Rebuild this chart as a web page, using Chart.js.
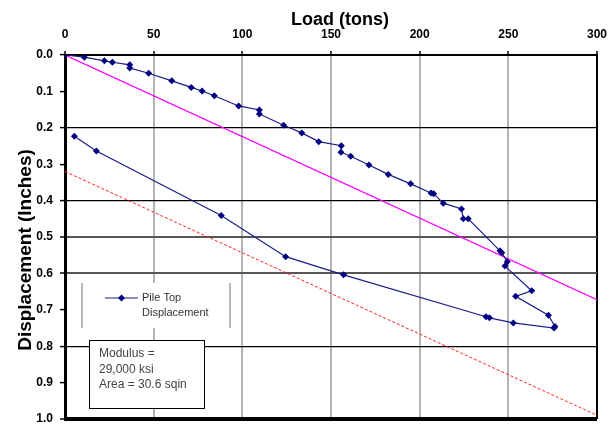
<!DOCTYPE html>
<html>
<head>
<meta charset="utf-8">
<script src="https://cdn.jsdelivr.net/npm/chart.js@4/dist/chart.umd.min.js"></script>
<style>
  html, body { margin: 0; padding: 0; background: #ffffff; }
  #wrap { width: 612px; height: 424px; }
</style>
</head>
<body>
<div id="wrap"><canvas id="myChart" width="612" height="424"></canvas></div>
<script>
'use strict';

// Pile top load test readings (load in tons, displacement in inches)
var pileLoad = [0, 10.9, 22.2, 26.7, 36.5, 36.5, 47.2, 60.2, 71.2, 77.3, 84.2, 97.9, 109.6, 109.6,
    123.3, 133.5, 143.1, 155.8, 155.6, 161.1, 171.4, 182.3, 194.9, 206.4, 207.9, 213.3, 223.6,
    224.6, 227.4, 245.3, 246.3, 249.4, 248.1, 263.2, 254.1, 272.6, 276.3, 275.8, 252.8, 239.3,
    237.4, 157.1, 124.4, 88.1, 17.7, 5.3];
var pileDisp = [0, 0.006, 0.016, 0.020, 0.027, 0.036, 0.050, 0.071, 0.089, 0.099, 0.112, 0.140, 0.151, 0.162,
    0.193, 0.214, 0.238, 0.249, 0.267, 0.278, 0.302, 0.328, 0.354, 0.379, 0.381, 0.407, 0.423,
    0.450, 0.450, 0.538, 0.543, 0.568, 0.580, 0.648, 0.663, 0.715, 0.746, 0.750, 0.736, 0.722,
    0.719, 0.604, 0.554, 0.441, 0.264, 0.223];

// Elastic compression line (PL/AE)
var elasticLoad = [0, 300];
var elasticDisp = [0, 0.672];

// Offset (failure criterion) line
var offsetLoad = [0, 300];
var offsetDisp = [0.32, 0.99];

var legendText = ['Pile Top', 'Displacement'];
var noteText = ['Modulus =', '29,000 ksi', 'Area = 30.6 sqin'];

function toPoints(xs, ys) {
    var pts = [];
    for (var i = 0; i < xs.length; i++) {
        pts.push({ x: xs[i], y: ys[i] });
    }
    return pts;
}

function round1(v) {
    return Math.round(v * 10) / 10;
}

// Titles, legend and the text box are drawn on top of the plot
var overlayPlugin = {
    id: 'overlay',
    afterDraw: function (chart) {
        var ctx = chart.ctx;
        ctx.save();

        // axis titles
        ctx.fillStyle = '#000000';
        ctx.textAlign = 'center';
        ctx.textBaseline = 'middle';
        ctx.font = 'bold 18px "Liberation Sans", Arial, sans-serif';
        ctx.fillText('Load (tons)', 340, 20);

        ctx.translate(26, 250);
        ctx.rotate(-Math.PI / 2);
        ctx.font = 'bold 19px "Liberation Sans", Arial, sans-serif';
        ctx.fillText('Displacement (Inches)', 0, 0);
        ctx.setTransform(1, 0, 0, 1, 0, 0);

        // legend box
        ctx.fillStyle = '#ffffff';
        ctx.fillRect(82, 283, 148, 45);
        ctx.strokeStyle = '#a0a0a0';
        ctx.lineWidth = 1.5;
        ctx.beginPath();
        ctx.moveTo(82, 283); ctx.lineTo(82, 328);
        ctx.moveTo(230, 283); ctx.lineTo(230, 328);
        ctx.stroke();

        ctx.strokeStyle = '#1c1c88';
        ctx.lineWidth = 1.2;
        ctx.beginPath();
        ctx.moveTo(105, 298); ctx.lineTo(138, 298);
        ctx.stroke();
        ctx.fillStyle = '#000080';
        ctx.beginPath();
        ctx.moveTo(121.5, 294.5); ctx.lineTo(125, 298); ctx.lineTo(121.5, 301.5); ctx.lineTo(118, 298);
        ctx.closePath();
        ctx.fill();

        ctx.fillStyle = '#333333';
        ctx.textAlign = 'left';
        ctx.font = '11px "Liberation Sans", Arial, sans-serif';
        ctx.fillText(legendText[0], 142, 298);
        ctx.fillText(legendText[1], 142, 312.5);

        // modulus note box
        ctx.fillStyle = '#ffffff';
        ctx.fillRect(89.5, 340.5, 115, 68);
        ctx.strokeStyle = '#000000';
        ctx.lineWidth = 1;
        ctx.strokeRect(89.5, 340.5, 115, 68);
        ctx.fillStyle = '#444444';
        ctx.font = '12px "Liberation Sans", Arial, sans-serif';
        ctx.fillText(noteText[0], 99, 354);
        ctx.fillText(noteText[1], 99, 370);
        ctx.fillText(noteText[2], 99, 384.5);

        ctx.restore();
    }
};

var tickFont = { family: '"Liberation Sans", Arial, sans-serif', size: 12, weight: 'bold' };

var chart = new Chart(document.getElementById('myChart'), {
    type: 'scatter',
    data: {
        datasets: [
            {
                label: 'Pile Top Displacement',
                data: toPoints(pileLoad, pileDisp),
                showLine: true,
                borderColor: '#1c1c88',
                borderWidth: 1.2,
                pointStyle: 'rectRot',
                pointRadius: 3.5,
                pointBackgroundColor: '#000080',
                pointBorderColor: '#000080',
                pointBorderWidth: 0,
                order: 1
            },
            {
                label: 'Elastic',
                data: toPoints(elasticLoad, elasticDisp),
                showLine: true,
                borderColor: '#ff00ff',
                borderWidth: 1.2,
                pointRadius: 0,
                order: 2
            },
            {
                label: 'Offset',
                data: toPoints(offsetLoad, offsetDisp),
                showLine: true,
                borderColor: '#ff2020',
                borderWidth: 1,
                borderDash: [3, 2],
                pointRadius: 0,
                order: 3
            }
        ]
    },
    options: {
        responsive: false,
        animation: false,
        layout: {
            padding: { left: 0, right: 15, top: 0, bottom: 5 }
        },
        plugins: {
            legend: { display: false },
            tooltip: { enabled: false }
        },
        scales: {
            x: {
                type: 'linear',
                position: 'top',
                min: 0,
                max: 300,
                afterFit: function (scale) {
                    scale.height = 55;
                    scale.paddingLeft = 0;
                    scale.paddingRight = 0;
                },
                ticks: {
                    stepSize: 50,
                    padding: 9,
                    color: '#000000',
                    maxRotation: 0,
                    font: tickFont
                },
                border: { color: '#000000', width: 2 },
                grid: {
                    tickLength: 4,
                    tickColor: '#000000',
                    tickWidth: 1.5,
                    color: function (ctx) {
                        var v = ctx.tick ? ctx.tick.value : 0;
                        if (v === 0) return 'rgba(0,0,0,0)';
                        if (v === 300) return '#000000';
                        return '#b4b4b4';
                    },
                    lineWidth: 2
                }
            },
            y: {
                type: 'linear',
                reverse: true,
                min: 0,
                max: 1,
                afterFit: function (scale) {
                    scale.width = 65;
                    scale.paddingTop = 0;
                    scale.paddingBottom = 0;
                },
                ticks: {
                    stepSize: 0.1,
                    padding: 7,
                    color: '#000000',
                    font: tickFont,
                    callback: function (value) {
                        return round1(value).toFixed(1);
                    }
                },
                border: { color: '#000000', width: 3 },
                grid: {
                    tickLength: 5,
                    tickColor: '#000000',
                    tickWidth: 1.5,
                    color: function (ctx) {
                        var v = ctx.tick ? round1(ctx.tick.value) : 0;
                        if (v === 0.2 || v === 0.4 || v === 0.8 || v === 1) return '#000000';
                        if (v === 0.5 || v === 0.6) return '#555555';
                        return 'rgba(0,0,0,0)';
                    },
                    lineWidth: function (ctx) {
                        var v = ctx.tick ? round1(ctx.tick.value) : 0;
                        if (v === 1) return 4;
                        if (v === 0.5 || v === 0.6) return 2;
                        return 1.2;
                    }
                }
            }
        }
    },
    plugins: [overlayPlugin]
});
</script>
</body>
</html>
